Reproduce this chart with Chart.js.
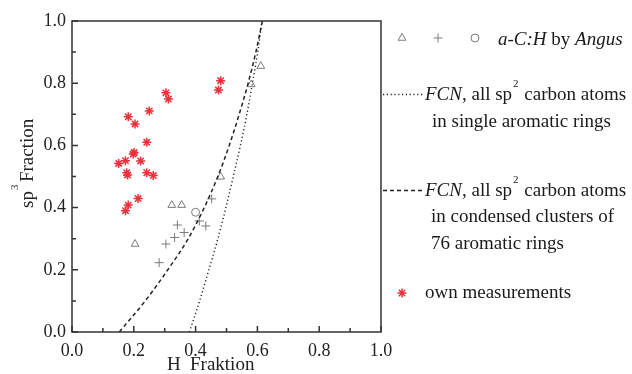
<!DOCTYPE html>
<html>
<head>
<meta charset="utf-8">
<script src="https://cdn.jsdelivr.net/npm/chart.js@4.4.1/dist/chart.umd.min.js"></script>
<style>
  body { margin: 0; background: #fff; }
  #wrap { width: 632px; height: 374px; }
</style>
</head>
<body>
<div id="wrap"><canvas id="myChart" width="632" height="374"></canvas></div>
<script>
// own measurements (red stars)
const ownH =   [0.304, 0.312, 0.250, 0.182, 0.204, 0.242, 0.201, 0.198, 0.151, 0.173, 0.222, 0.177, 0.180, 0.242, 0.263, 0.214, 0.182, 0.173, 0.481, 0.474];
const ownSp3 = [0.769, 0.749, 0.711, 0.692, 0.669, 0.610, 0.577, 0.572, 0.542, 0.551, 0.550, 0.512, 0.505, 0.512, 0.503, 0.429, 0.408, 0.390, 0.808, 0.778];

// a-C:H by Angus
const triH =   [0.611, 0.580, 0.481, 0.323, 0.355, 0.204];
const triSp3 = [0.855, 0.796, 0.499, 0.408, 0.408, 0.283];
const plusH =   [0.282, 0.304, 0.332, 0.341, 0.363, 0.412, 0.433, 0.452];
const plusSp3 = [0.223, 0.283, 0.304, 0.344, 0.320, 0.357, 0.341, 0.428];
const circH =   [0.400];
const circSp3 = [0.385];

// FCN curves (every 0.1 of sp3)
const curveSp3 =  [0.0, 0.1, 0.2, 0.3, 0.4, 0.5, 0.6, 0.7, 0.8, 0.9, 1.0];
const singleH =   [0.380, 0.413, 0.443, 0.472, 0.498, 0.522, 0.545, 0.566, 0.584, 0.601, 0.615];
const clusterH =  [0.153, 0.237, 0.310, 0.376, 0.428, 0.472, 0.509, 0.541, 0.570, 0.595, 0.616];

const tickValues = [0, 0.2, 0.4, 0.6, 0.8, 1.0];

const serif = '"Liberation Serif", "Times New Roman", serif';
const gray = '#7a7a7a';
const red = '#e8333c';

function pts(xs, ys) {
  return xs.map((x, i) => ({ x: x, y: ys[i] }));
}

const framePlugin = {
  id: 'frame',
  afterDraw(chart) {
    const ctx = chart.ctx;
    const a = chart.chartArea;
    const xs = chart.scales.x;
    const ys = chart.scales.y;
    ctx.save();
    ctx.strokeStyle = '#333';
    ctx.lineWidth = 1.5;
    ctx.strokeRect(a.left, a.top, a.right - a.left, a.bottom - a.top);
    // inward ticks, major + minor
    for (let i = 0; i <= 10; i++) {
      const v = i / 10;
      const len = i % 2 === 0 ? 6 : 4;
      const px = xs.getPixelForValue(v);
      const py = ys.getPixelForValue(v);
      ctx.beginPath();
      ctx.moveTo(px, a.bottom);
      ctx.lineTo(px, a.bottom - len);
      ctx.moveTo(a.left, py);
      ctx.lineTo(a.left + len, py);
      ctx.stroke();
    }
    ctx.restore();

    // axis titles
    ctx.save();
    ctx.fillStyle = '#222';
    ctx.font = '19px ' + serif;
    ctx.textBaseline = 'alphabetic';
    ctx.fillText('H', 167, 370);
    ctx.fillText('Fraktion', 190, 370);
    ctx.translate(33, 208);
    ctx.rotate(-Math.PI / 2);
    ctx.fillText('sp', 0, 0);
    let w = ctx.measureText('sp').width;
    ctx.font = '11px ' + serif;
    ctx.fillText('3', w + 1, -15);
    ctx.font = '19px ' + serif;
    ctx.fillText('Fraction', w + 9, 0);
    ctx.restore();

    // legend
    ctx.save();
    ctx.fillStyle = 'rgba(0,0,0,0)';
    ctx.textBaseline = 'alphabetic';
    const H = Chart.helpers;
    ctx.strokeStyle = gray;
    ctx.lineWidth = 1;
    H.drawPoint(ctx, { pointStyle: 'triangle', radius: 4.5, rotation: 0, borderWidth: 1 }, 402, 38);
    H.drawPoint(ctx, { pointStyle: 'cross', radius: 4.5, rotation: 0, borderWidth: 1 }, 438, 38);
    H.drawPoint(ctx, { pointStyle: 'circle', radius: 4, rotation: 0, borderWidth: 1 }, 475, 38);
    ctx.fillStyle = '#1a1a1a';

    function runs(parts, x, y) {
      for (const p of parts) {
        if (p.sup) {
          ctx.font = '11px ' + serif;
          ctx.fillText(p.t, x + 1, y - 13);
          x += ctx.measureText(p.t).width + 2;
        } else {
          ctx.font = (p.i ? 'italic ' : '') + '19px ' + serif;
          ctx.fillText(p.t, x, y);
          x += ctx.measureText(p.t).width;
        }
      }
    }
    runs([{ t: 'a-C:H', i: true }, { t: ' by ' }, { t: 'Angus', i: true }], 498, 45);

    // dotted entry
    ctx.strokeStyle = '#222';
    ctx.lineWidth = 1.4;
    ctx.setLineDash([1.2, 2.6]);
    ctx.beginPath();
    ctx.moveTo(383, 94.5);
    ctx.lineTo(423, 94.5);
    ctx.stroke();
    const fcn = [{ t: 'FCN', i: true }, { t: ', all sp' }, { t: '2', sup: true }, { t: ' carbon atoms' }];
    runs(fcn, 425, 100);
    runs([{ t: 'in single aromatic rings' }], 432, 127);

    // dashed entry
    ctx.setLineDash([4, 3]);
    ctx.beginPath();
    ctx.moveTo(383, 190.5);
    ctx.lineTo(423, 190.5);
    ctx.stroke();
    ctx.setLineDash([]);
    runs(fcn, 425, 196);
    runs([{ t: 'in condensed clusters of' }], 431, 222);
    runs([{ t: '76 aromatic rings' }], 431, 249);

    ctx.strokeStyle = red;
    ctx.fillStyle = red;
    ctx.lineWidth = 1.5;
    H.drawPoint(ctx, { pointStyle: 'star', radius: 4.5, rotation: 0, borderWidth: 1.5 }, 402, 293);
    ctx.fillStyle = '#1a1a1a';
    runs([{ t: 'own measurements' }], 425, 298);
    ctx.restore();
  }
};

const ctx = document.getElementById('myChart').getContext('2d');
let myChart = new Chart(ctx, {
  type: 'scatter',
  data: {
    datasets: [
      {
        label: 'FCN single',
        type: 'line',
        data: pts(singleH, curveSp3),
        borderColor: '#222',
        borderWidth: 1.4,
        borderDash: [1.2, 2.6],
        pointRadius: 0,
        cubicInterpolationMode: 'monotone',
        fill: false
      },
      {
        label: 'FCN clusters',
        type: 'line',
        data: pts(clusterH, curveSp3),
        borderColor: '#222',
        borderWidth: 1.5,
        borderDash: [4, 3],
        pointRadius: 0,
        cubicInterpolationMode: 'monotone',
        fill: false
      },
      {
        label: 'Angus triangles',
        data: pts(triH, triSp3),
        pointStyle: 'triangle',
        pointRadius: 4.5,
        borderColor: gray,
        backgroundColor: 'rgba(0,0,0,0)',
        borderWidth: 1
      },
      {
        label: 'Angus plus',
        data: pts(plusH, plusSp3),
        pointStyle: 'cross',
        pointRadius: 4.5,
        borderColor: gray,
        borderWidth: 1
      },
      {
        label: 'Angus circle',
        data: pts(circH, circSp3),
        pointStyle: 'circle',
        pointRadius: 4,
        borderColor: gray,
        backgroundColor: 'rgba(0,0,0,0)',
        borderWidth: 1
      },
      {
        label: 'own measurements',
        data: pts(ownH, ownSp3),
        pointStyle: 'star',
        pointRadius: 4.5,
        borderColor: red,
        backgroundColor: red,
        borderWidth: 1.5
      }
    ]
  },
  options: {
    responsive: false,
    animation: false,
    layout: { padding: { left: 0, top: 21, right: 251, bottom: 0 } },
    plugins: {
      legend: { display: false },
      tooltip: { enabled: false }
    },
    scales: {
      x: {
        type: 'linear',
        min: 0,
        max: 1,
        afterFit: s => { s.height = 42; },
        afterBuildTicks: s => { s.ticks = tickValues.map(v => ({ value: v })); },
        grid: { display: false, drawTicks: false },
        border: { display: false },
        ticks: {
          padding: 8,
          color: '#222',
          font: { family: serif, size: 18 },
          callback: v => v.toFixed(1)
        }
      },
      y: {
        type: 'linear',
        min: 0,
        max: 1,
        afterFit: s => { s.width = 72; },
        afterBuildTicks: s => { s.ticks = tickValues.map(v => ({ value: v })); },
        grid: { display: false, drawTicks: false },
        border: { display: false },
        ticks: {
          padding: 6,
          color: '#222',
          font: { family: serif, size: 18 },
          callback: v => v.toFixed(1)
        }
      }
    }
  },
  plugins: [framePlugin]
});
</script>
</body>
</html>
